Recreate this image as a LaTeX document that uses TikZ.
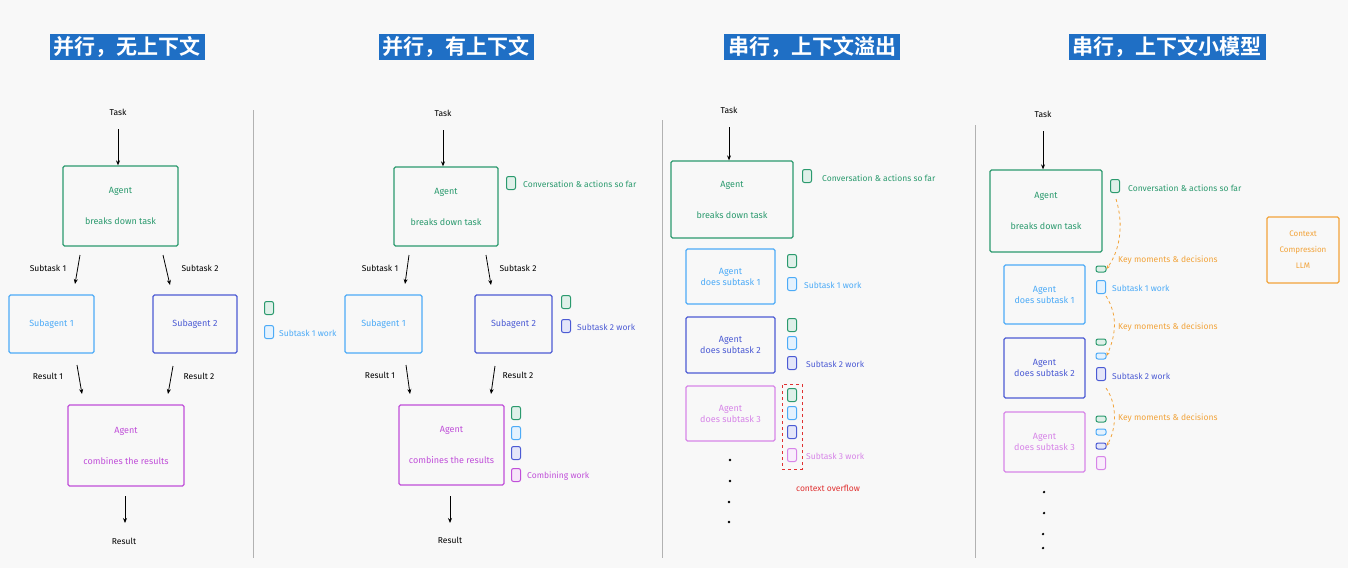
\documentclass[tikz,border=0pt]{standalone}
\usepackage{fontspec}
\setmainfont{Fira Sans}
\newfontfamily\cjk{Noto Sans CJK SC}[BoldFont={* Bold}]
\usetikzlibrary{arrows.meta,positioning}
\definecolor{cg}{HTML}{2B9A6E}
\definecolor{clb}{HTML}{4DABF7}
\definecolor{cb}{HTML}{4C5BD4}
\definecolor{cp}{HTML}{C04FD9}
\definecolor{cpl}{HTML}{D785E8}
\definecolor{co}{HTML}{F2A33A}
\definecolor{cr}{HTML}{E03131}
\definecolor{ttl}{HTML}{1F6FC5}
\definecolor{bgc}{HTML}{F8F8F8}
\tikzset{
 box/.style={draw=#1,text=#1,line width=1.3pt,rounded corners=1.5pt,align=center,font=\fontsize{9}{11}\selectfont,inner sep=2pt},
 sq/.style={draw=#1,fill=#1!15,line width=1pt,rounded corners=2pt,minimum width=9pt,minimum height=13pt,inner sep=0pt},
 ssq/.style={draw=#1,fill=#1!15,line width=1pt,rounded corners=2pt,minimum width=10pt,minimum height=6pt,inner sep=0pt},
 lbl/.style={text=#1,font=\fontsize{8.5}{10}\selectfont,anchor=west,inner sep=0pt},
 blk/.style={font=\fontsize{8.5}{10}\selectfont,inner sep=0pt},
 arr/.style={-{Stealth[length=5pt,width=4pt]},line width=0.8pt},
 ttlbox/.style={fill=ttl,text=white,font=\cjk\bfseries\fontsize{21}{24}\selectfont,inner xsep=4pt,inner ysep=3pt},
 sep/.style={draw=gray!60,line width=1pt},
 kd/.style={draw=co,dashed,line width=0.8pt,-{Stealth[length=4pt]}},
 dot/.style={circle,fill=black,inner sep=0.9pt},
}
\begin{document}
\begin{tikzpicture}[x=1pt,y=-1pt]
\fill[bgc] (0,0) rectangle (1348,568);
\useasboundingbox (0,0) rectangle (1348,568);
% titles
\node[ttlbox] (t1) at (127,47) {并行，无上下文};
\node[ttlbox] (t2) at (456,47) {并行，有上下文};
\node[ttlbox] (t3) at (812,47) {串行，上下文溢出};
\node[ttlbox] (t4) at (1167,47) {串行，上下文小模型};
% separators
\coordinate (s1a) at (253,110); \coordinate (s1b) at (253,558);
\coordinate (s2a) at (662,120); \coordinate (s2b) at (662,558);
\coordinate (s3a) at (975,125); \coordinate (s3b) at (975,558);
\draw[sep] (s1a)--(s1b); \draw[sep] (s2a)--(s2b); \draw[sep] (s3a)--(s3b);

% ===== Panel 1
\node[blk] (p1task) at (118,112) {Task};
\coordinate (p1tc) at (118,129);
\node[box=cg,minimum width=115pt,minimum height=80pt] (p1a) at (120.5,206) {Agent\\[20pt]breaks down task};
\draw[arr] (p1tc) -- (p1a.north -| p1tc);
\node[box=clb,minimum width=85pt,minimum height=58pt] (p1s1) at (51.5,324) {Subagent 1};
\node[box=cb,minimum width=84pt,minimum height=58pt] (p1s2) at (195,324) {Subagent 2};
\coordinate (p1x1) at (80,255); \coordinate (p1y1) at (75,284);
\coordinate (p1x2) at (163,255); \coordinate (p1y2) at (170,285);
\draw[arr] (p1x1)--(p1y1); \draw[arr] (p1x2)--(p1y2);
\node[blk] (p1l1) at (48,268) {Subtask 1};
\node[blk] (p1l2) at (200,268) {Subtask 2};
\node[box=cp,minimum width=116pt,minimum height=81pt] (p1c) at (126,445.5) {Agent\\[20pt]combines the results};
\coordinate (p1r1a) at (77,365); \coordinate (p1r1b) at (82,394);
\coordinate (p1r2a) at (173,366); \coordinate (p1r2b) at (168,394);
\draw[arr] (p1r1a)--(p1r1b); \draw[arr] (p1r2a)--(p1r2b);
\node[blk] (p1rl1) at (48,376) {Result 1};
\node[blk] (p1rl2) at (199,376) {Result 2};
\node[blk] (p1res) at (124,541) {Result};
\coordinate (p1q) at (125,496); \coordinate (p1qq) at (125,523);
\draw[arr] (p1q) -- (p1qq);

% ===== Panel 2
\node[blk] (p2task) at (443,113) {Task};
\coordinate (p2tc) at (443,130);
\node[box=cg,minimum width=104pt,minimum height=79pt] (p2a) at (446,206.5) {Agent\\[20pt]breaks down task};
\draw[arr] (p2tc)--(p2a.north -| p2tc);
\node[sq=cg] (p2g0) at (511,183) {};
\node[lbl=cg] (p2gl) at (523,184) {Conversation \& actions so far};
\node[box=clb,minimum width=77pt,minimum height=58pt] (p2s1) at (383.5,324) {Subagent 1};
\node[box=cb,minimum width=77pt,minimum height=58pt] (p2s2) at (513.5,324) {Subagent 2};
\coordinate (p2x1) at (409,255); \coordinate (p2y1) at (405,284);
\coordinate (p2x2) at (486,255); \coordinate (p2y2) at (491,285);
\draw[arr] (p2x1)--(p2y1); \draw[arr] (p2x2)--(p2y2);
\node[blk] (p2l1) at (380,268) {Subtask 1};
\node[blk] (p2l2) at (518,268) {Subtask 2};
\node[sq=cg] (p2ag) at (269,308) {};
\node[sq=clb] (p2alb) at (269,332) {};
\node[lbl=clb] (p2al) at (279,333) {Subtask 1 work};
\node[sq=cg] (p2bg) at (566,302) {};
\node[sq=cb] (p2bb) at (566,326) {};
\node[lbl=cb] (p2bl) at (577,327) {Subtask 2 work};
\node[box=cp,minimum width=105pt,minimum height=80pt] (p2c) at (451.5,445) {Agent\\[20pt]combines the results};
\coordinate (p2r1a) at (406,365); \coordinate (p2r1b) at (410,394);
\coordinate (p2r2a) at (495,366); \coordinate (p2r2b) at (491,394);
\draw[arr] (p2r1a)--(p2r1b); \draw[arr] (p2r2a)--(p2r2b);
\node[blk] (p2rl1) at (380,375) {Result 1};
\node[blk] (p2rl2) at (518,375) {Result 2};
\node[sq=cg] (p2cg) at (516,413) {};
\node[sq=clb] (p2clb) at (516,433) {};
\node[sq=cb] (p2cb) at (516,453) {};
\node[sq=cp] (p2cp) at (516,475) {};
\node[lbl=cp] (p2cl) at (527,476) {Combining work};
\coordinate (p2q) at (450,496); \coordinate (p2qq) at (450,523);
\draw[arr] (p2q)--(p2qq);
\node[blk] (p2res) at (450,540) {Result};

% ===== Panel 3
\node[blk] (p3task) at (729,110) {Task};
\coordinate (p3tc) at (729,127);
\node[box=cg,minimum width=122pt,minimum height=77pt] (p3a) at (732,199.5) {Agent\\[20pt]breaks down task};
\draw[arr] (p3tc)--(p3a.north -| p3tc);
\node[sq=cg] (p3g0) at (807,176) {};
\node[lbl=cg] (p3gl) at (822,178) {Conversation \& actions so far};
\node[box=clb,minimum width=89pt,minimum height=55pt] (p3b1) at (730.5,276.5) {Agent\\does subtask 1};
\node[sq=cg] (p3b1g) at (792,261) {};
\node[sq=clb] (p3b1l) at (792,284) {};
\node[lbl=clb] (p3b1t) at (804,285) {Subtask 1 work};
\node[box=cb,minimum width=89pt,minimum height=56pt] (p3b2) at (730.5,345) {Agent\\does subtask 2};
\node[sq=cg] (p3b2g) at (792,325) {};
\node[sq=clb] (p3b2l) at (792,343) {};
\node[sq=cb] (p3b2b) at (792,363) {};
\node[lbl=cb] (p3b2t) at (806,364) {Subtask 2 work};
\node[box=cpl,minimum width=89pt,minimum height=55pt] (p3b3) at (730.5,413.5) {Agent\\does subtask 3};
\node[sq=cg] (p3b3g) at (792,395) {};
\node[sq=clb] (p3b3l) at (792,413) {};
\node[sq=cb] (p3b3b) at (792,432) {};
\node[sq=cpl] (p3b3p) at (792,455) {};
\node[lbl=cpl] (p3b3t) at (806,456) {Subtask 3 work};
\node[draw=cr,dashed,line width=1pt,minimum width=20pt,minimum height=85pt] (p3ov) at (792,426.5) {};
\node[blk,text=cr] (p3ovl) at (828,488) {context overflow};
\node[dot] (p3d1) at (730,460) {}; \node[dot] (p3d2) at (730,481) {};
\node[dot] (p3d3) at (729,502) {}; \node[dot] (p3d4) at (729,522) {};

% ===== Panel 4
\node[blk] (p4task) at (1043,114) {Task};
\coordinate (p4tc) at (1043,131);
\node[box=cg,minimum width=112pt,minimum height=82pt] (p4a) at (1046,211) {Agent\\[20pt]breaks down task};
\draw[arr] (p4tc)--(p4a.north -| p4tc);
\node[sq=cg] (p4g0) at (1115,186) {};
\node[lbl=cg] (p4gl) at (1128,188) {Conversation \& actions so far};
\node[box=co,minimum width=72pt,minimum height=66pt,font=\fontsize{8}{16}\selectfont] (p4llm) at (1303,250) {Context\\Compression\\LLM};
\node[box=clb,minimum width=81pt,minimum height=59pt] (p4b1) at (1044.5,294.5) {Agent\\does subtask 1};
\node[ssq=cg] (p4b1g) at (1101,269) {};
\node[sq=clb] (p4b1l) at (1101,287) {};
\node[lbl=clb] (p4b1t) at (1112,288) {Subtask 1 work};
\node[box=cb,minimum width=81pt,minimum height=60pt] (p4b2) at (1044.5,368) {Agent\\does subtask 2};
\node[ssq=cg] (p4b2g) at (1101,342) {};
\node[ssq=clb] (p4b2l) at (1101,356) {};
\node[sq=cb] (p4b2b) at (1101,374) {};
\node[lbl=cb] (p4b2t) at (1112,376) {Subtask 2 work};
\node[box=cpl,minimum width=81pt,minimum height=60pt] (p4b3) at (1044.5,442) {Agent\\does subtask 3};
\node[ssq=cg] (p4b3g) at (1101,419) {};
\node[ssq=clb] (p4b3l) at (1101,432) {};
\node[ssq=cb] (p4b3b) at (1101,446) {};
\node[sq=cpl] (p4b3p) at (1101,463) {};
\node[lbl=co] (p4k1) at (1118,260) {Key moments \& decisions};
\node[lbl=co] (p4k2) at (1118,327) {Key moments \& decisions};
\node[lbl=co] (p4k3) at (1118,418) {Key moments \& decisions};
\coordinate (p4c1a) at (1116,199); \coordinate (p4c2a) at (1106,296); \coordinate (p4c3a) at (1106,388);
\draw[kd] (p4c1a) .. controls (1124,225) and (1120,250) .. (p4b1g.east);
\draw[kd] (p4c2a) .. controls (1118,315) and (1116,335) .. (p4b2l.east);
\draw[kd] (p4c3a) .. controls (1118,405) and (1116,430) .. (p4b3b.east);
\node[dot] (p4d1) at (1044,492) {}; \node[dot] (p4d2) at (1044,513) {};
\node[dot] (p4d3) at (1043,534) {}; \node[dot] (p4d4) at (1043,548) {};
\end{tikzpicture}
\end{document}
